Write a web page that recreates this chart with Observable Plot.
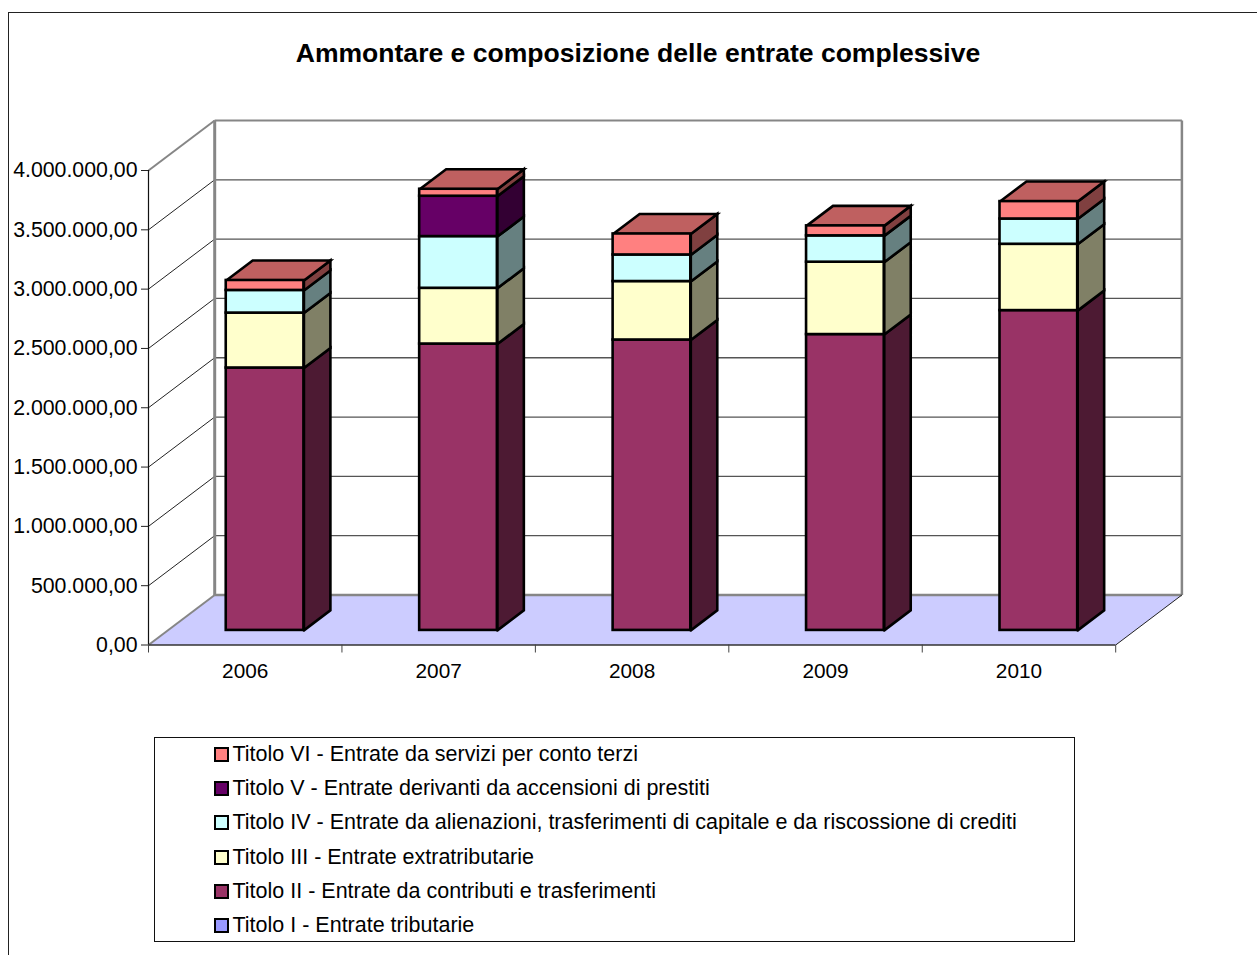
<!DOCTYPE html>
<html lang="it">
<head>
<meta charset="utf-8">
<title>Ammontare e composizione delle entrate complessive</title>
<style>
  html, body { margin: 0; padding: 0; background: #fff; }
  body { width: 1257px; height: 955px; overflow: hidden; position: relative; font-family: "Liberation Sans", Arial, sans-serif; color: #000; }
  #frame { position: absolute; left: 8.3px; top: 12px; right: 0; bottom: 0; border-left: 1.5px solid #222; border-top: 1.5px solid #222; }
  #title { position: absolute; left: 0; width: 1276px; top: 38px; text-align: center; font-weight: bold; font-size: 26.55px; line-height: 30px; }
  #chart { position: absolute; left: 0; top: 0; }
  #legend { position: absolute; left: 154px; top: 737px; width: 921px; height: 205px; border: 1px solid #111; box-sizing: border-box; }
  .row { position: absolute; left: 59px; height: 24px; display: flex; align-items: center; font-size: 21.5px; white-space: nowrap; }
  .sw { border: 2px solid #000; margin-right: 3.5px; width: 11px; height: 11px; }
</style>
<script src="https://cdn.jsdelivr.net/npm/d3@7"></script>
<script src="https://cdn.jsdelivr.net/npm/@observablehq/plot@0.6"></script>
</head>
<body>
<div id="frame"></div>
<div id="chart"></div>
<div id="title">Ammontare e composizione delle entrate complessive</div>
<div id="legend"></div>
<script>
const years = ["2006", "2007", "2008", "2009", "2010"];
const seriesNames = [
  "Titolo I - Entrate tributarie",
  "Titolo II - Entrate da contributi e trasferimenti",
  "Titolo III - Entrate extratributarie",
  "Titolo IV - Entrate da alienazioni, trasferimenti di capitale e da riscossione di crediti",
  "Titolo V - Entrate derivanti da accensioni di prestiti",
  "Titolo VI - Entrate da servizi per conto terzi"
];
const titoloI   = [0, 0, 0, 0, 0];
const titoloII  = [2212000, 2414000, 2448000, 2494000, 2696000];
const titoloIII = [463000, 470000, 493000, 610000, 559000];
const titoloIV  = [191000, 436000, 224000, 222000, 213000];
const titoloV   = [0, 340000, 0, 0, 0];
const titoloVI  = [84000, 59000, 177000, 84000, 147000];
const seriesValues = [titoloI, titoloII, titoloIII, titoloIV, titoloV, titoloVI];
const frontColors = ["#9999FF", "#993366", "#FFFFCC", "#CCFFFF", "#660066", "#FF8080"];
const sideColors  = ["#4D4D80", "#4D1A33", "#808066", "#668080", "#330033", "#804040"];
const topColor = "#BF6060";
const axisTicks = [0, 500000, 1000000, 1500000, 2000000, 2500000, 3000000, 3500000, 4000000];
const categoryEdges = [0, 1, 2, 3, 4, 5];
const categoryCentres = [0.5, 1.5, 2.5, 3.5, 4.5];

// Oblique projection of the 3-D box, expressed in scale units
const depthX = 66.2 / 193.44;   // category units for the full floor depth
const depthY = 50 * 4000000 / 474.3; // value units for the full floor depth
const barHalf = 0.2008;
const near = 0.3, far = 0.7;

const it = d3.formatLocale({decimal: ",", thousands: ".", grouping: [3], currency: ["€", ""]}).format(",.2f");

// Build polygons (side and top) and front rectangles from the values
const polys = [];
const fronts = [];
years.forEach((year, i) => {
  let base = 0;
  const xl = i + 0.5 - barHalf, xr = i + 0.5 + barHalf;
  seriesValues.forEach((vals, s) => {
    const v = vals[i];
    if (v <= 0) return;
    const top = base + v;
    fronts.push({x1: xl + near * depthX, x2: xr + near * depthX, y1: base + near * depthY, y2: top + near * depthY, fill: frontColors[s]});
    const id = `${year}-${s}`;
    [[xr, base, near], [xr, base, far], [xr, top, far], [xr, top, near], [xr, base, near]].forEach(([x, y, d]) =>
      polys.push({id, x: x + d * depthX, y: y + d * depthY, fill: sideColors[s]}));
    base = top;
  });
  const id = `${year}-top`;
  [[xl, near], [xl, far], [xr, far], [xr, near], [xl, near]].forEach(([x, d]) =>
    polys.push({id, x: x + d * depthX, y: base + d * depthY, fill: topColor}));
});

const floor = [[0, 0], [depthX, depthY], [5 + depthX, depthY], [5, 0], [0, 0]].map(([x, y]) => ({x, y}));
const grey = "#868686";
const gridLines = axisTicks.slice(1, -1);

const chart = Plot.plot({
  width: 1257,
  height: 700,
  marginLeft: 148,
  marginRight: 141.8,
  marginTop: 170,
  marginBottom: 55.5,
  style: {background: "transparent", fontFamily: "'Liberation Sans', Arial, sans-serif", color: "#000", overflow: "visible"},
  x: {domain: [0, 5], label: null},
  y: {domain: [0, 4000000], label: null},
  marks: [
    // floor
    Plot.line(floor, {x: "x", y: "y", fill: "#CCCCFF", stroke: "none"}),
    // gridlines on the side wall and the back wall
    Plot.link(gridLines, {x1: 0, y1: d => d, x2: depthX, y2: d => d + depthY, stroke: "#222", strokeWidth: 1}),
    Plot.link(gridLines, {x1: depthX, y1: d => d + depthY, x2: 5 + depthX, y2: d => d + depthY, stroke: "#555", strokeWidth: 1.3}),
    // grey wall outline
    Plot.link([4000000], {x1: 0, y1: d => d, x2: depthX, y2: d => d + depthY, stroke: grey, strokeWidth: 2}),
    Plot.link([0], {x1: 0, y1: d => d, x2: depthX, y2: d => d + depthY, stroke: grey, strokeWidth: 2}),
    Plot.link([4000000], {x1: depthX, y1: d => d + depthY, x2: 5 + depthX, y2: d => d + depthY, stroke: grey, strokeWidth: 2}),
    Plot.link([0], {x1: depthX, y1: d => d + depthY, x2: 5 + depthX, y2: d => d + depthY, stroke: grey, strokeWidth: 2.5}),
    Plot.link([depthX], {x1: d => d, y1: depthY, x2: d => d, y2: 4000000 + depthY, stroke: grey, strokeWidth: 3}),
    Plot.link([5 + depthX], {x1: d => d, y1: depthY, x2: d => d, y2: 4000000 + depthY, stroke: grey, strokeWidth: 2.5}),
    Plot.link([0], {x1: 5, y1: d => d, x2: 5 + depthX, y2: d => d + depthY, stroke: "#222", strokeWidth: 1}),
    // bars
    Plot.line(polys.map(d => ({...d, y: d.y - 3500})), {x: "x", y: "y", z: "id", fill: "fill", stroke: "#000", strokeWidth: 2.6, strokeLinejoin: "miter", strokeMiterlimit: 10}),
    Plot.rect(fronts.map(d => ({...d, y1: d.y1 - 3500, y2: d.y2 - 3500})), {x1: "x1", x2: "x2", y1: "y1", y2: "y2", fill: "fill", stroke: "#000", strokeWidth: 2.6, strokeLinejoin: "miter"}),
    // axes
    Plot.ruleX([0], {y1: 0, y2: 4000000, stroke: "#111", strokeWidth: 1.2}),
    Plot.ruleY([0], {x1: 0, x2: 5, stroke: "#333", strokeWidth: 1.5}),
    Plot.axisY(axisTicks, {anchor: "left", tickSize: 7, tickPadding: 4, label: null, fontSize: 21.3, tickFormat: it, stroke: "#222"}),
    Plot.axisX(categoryEdges, {anchor: "bottom", tickSize: 8, tickFormat: () => "", label: null, stroke: "#444"}),
    Plot.axisX(categoryCentres, {anchor: "bottom", tickSize: 0, tickPadding: 18.5, label: null, fontSize: 20.8, tickFormat: d => years[Math.floor(d)]})
  ]
});
document.getElementById("chart").append(chart);

const legend = document.getElementById("legend");
[5, 4, 3, 2, 1, 0].forEach((s, k) => {
  const row = document.createElement("div");
  row.className = "row";
  row.style.top = (4.4 + k * 34.2) + "px";
  const sw = document.createElement("span");
  sw.className = "sw";
  sw.style.background = frontColors[s];
  row.append(sw, document.createTextNode(seriesNames[s]));
  legend.append(row);
});
</script>
</body>
</html>
